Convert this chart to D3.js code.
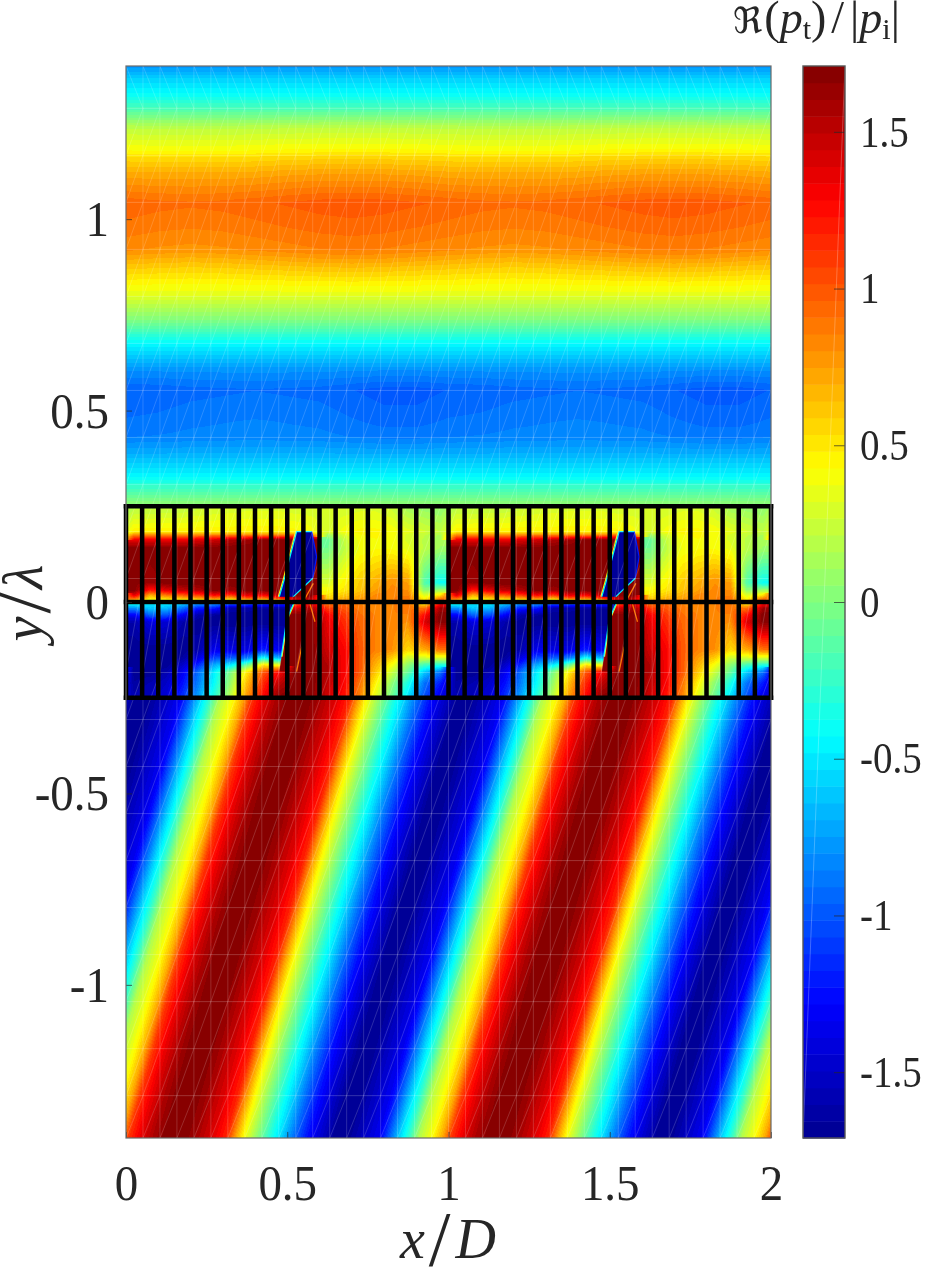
<!DOCTYPE html>
<html>
<head>
<meta charset="utf-8">
<script src="https://cdn.jsdelivr.net/npm/d3@7"></script>
<style>
  html, body { margin: 0; padding: 0; background: #fff; }
  #plot { position: relative; width: 936px; height: 1273px; overflow: hidden; }
  canvas, svg { position: absolute; left: 0; top: 0; }
  text { font-family: "Liberation Serif", serif; fill: #262626; }
</style>
</head>
<body>
<div id="plot"></div>
<script>
// Axis limits and tick labels
const xLimits = [0, 2];
const yLimits = [-1.4, 1.4];
const colorLimits = [-1.71, 1.71];
const xTicks = [0, 0.5, 1, 1.5, 2];
const yTicks = [-1, -0.5, 0, 0.5, 1];
const colorTicks = [-1.5, -1, -0.5, 0, 0.5, 1, 1.5];

// Standing field above the grating: y/λ and pressure
const upperY = [1.4, 1.371, 1.329, 1.287, 1.24, 1.18, 1.162, 1.12, 1.068, 1.042, 0.979, 0.919, 0.875,
  0.828, 0.807, 0.789, 0.736, 0.676, 0.606, 0.554, 0.483, 0.431, 0.389, 0.326, 0.305, 0.258];
const upperP = [-0.79, -0.6, -0.43, -0.17, 0.2, 0.43, 0.55, 0.72, 0.88, 0.96, 0.9, 0.82, 0.62,
  0.43, 0.36, 0.27, 0, -0.43, -0.79, -0.95, -0.9, -0.85, -0.7, -0.43, -0.27, 0.03];

// Slow ripple of the standing field over one period (rows in y/λ, columns every 0.1 x/D)
const rippleY = [1.3, 1.1, 1.05, 0.98, 0.9, 0.8, 0.62, 0.55, 0.47, 0.38];
const ripple = [
  [0, 0, 0, 0, 0, 0, 0, 0, 0, 0],
  [-0.01, -0.02, -0.02, -0.02, -0.01, 0.01, 0.02, 0.02, 0.02, 0.01],
  [-0.01, -0.03, -0.04, -0.03, -0.01, 0.01, 0.03, 0.04, 0.03, 0.01],
  [-0.01, -0.03, -0.04, -0.03, -0.01, 0.01, 0.03, 0.04, 0.03, 0.01],
  [-0.01, -0.03, -0.04, -0.03, -0.01, 0.01, 0.03, 0.04, 0.03, 0.01],
  [0, 0, 0, 0, 0, 0, 0, 0, 0, 0],
  [0, 0, 0, 0, 0, 0, 0, 0, 0, 0],
  [-0.01, 0, 0.02, 0.03, 0.04, 0.03, 0.02, -0.01, -0.04, -0.04],
  [-0.01, 0, 0.02, 0.03, 0.04, 0.03, 0.02, -0.01, -0.04, -0.04],
  [0, 0, 0, 0, 0, 0, 0, 0, 0, 0]
];

// Oblique incident wave below the grating: pressure along one period at the reference row
const waveShear = 0.3325;
const waveRefY = -0.778;
const waveU = [0.002, 0.053, 0.085, 0.115, 0.157, 0.188, 0.213, 0.25, 0.29, 0.353, 0.415, 0.477,
  0.518, 0.545, 0.57, 0.61, 0.653, 0.685, 0.725, 0.766, 0.81, 0.87, 0.933, 0.99];
const waveP = [-1.22, -0.58, -0.24, 0.17, 0.43, 0.72, 1.1, 1.35, 1.56, 1.78, 1.62, 1.38,
  1.16, 0.75, 0.43, 0.07, -0.31, -0.55, -0.9, -1.22, -1.47, -1.78, -1.55, -1.33];

// Field inside the slots: one row per y/λ level, one value per slot over a period
const slotY = [0.245, 0.183, 0.175, 0.162, 0.14, 0.05, 0.031, 0.018, 0.008,
  -0.005, -0.016, -0.034, -0.052, -0.125, -0.146, -0.164, -0.183, -0.211, -0.24];
const slotP = [
  [0.2, 0.2, 0.22, 0.22, 0.25, 0.27, 0.28, 0.3, 0.3, 0.3, 0.28, 0.28, 0.27, 0.28, 0.3, 0.3, 0.25, 0.12, 0.08, 0.05],
  [0.47, 0.47, 0.47, 0.47, 0.47, 0.47, 0.47, 0.47, 0.47, 0.47, 0.45, 0.4, 0.3, 0.4, 0.45, 0.45, 0.42, 0.35, 0.28, 0.22],
  [0.85, 0.85, 0.85, 0.85, 0.85, 0.85, 0.85, 0.85, 0.85, 0.85, 0.9, 0.9, 0.1, 0.3, 0.42, 0.45, 0.4, 0.3, 0.22, 0.15],
  [1.35, 1.35, 1.35, 1.35, 1.4, 1.45, 1.55, 1.6, 1.71, 1.71, 1.71, 1.71, -0.1, 0.22, 0.4, 0.42, 0.4, 0.3, 0.2, 0.12],
  [1.71, 1.71, 1.71, 1.71, 1.71, 1.71, 1.71, 1.71, 1.71, 1.71, 1.71, 1.71, -0.05, 0.2, 0.38, 0.42, 0.42, 0.35, 0.2, 0.1],
  [1.71, 1.6, 1.71, 1.71, 1.71, 1.71, 1.71, 1.71, 1.71, 1.71, 1.71, 1.71, 0.3, 0.45, 0.6, 0.7, 0.8, 0.75, -0.15, -0.4],
  [1.71, 1.2, 1.4, 1.5, 1.55, 1.71, 1.6, 1.71, 1.71, 1.71, 1.71, 1.71, 0.42, 0.5, 0.62, 0.75, 0.82, 0.8, 0.05, 0.1],
  [1.4, 0.7, 0.9, 1.0, 1.1, 1.3, 1.1, 1.4, 1.3, 1.5, 1.71, 1.71, 0.5, 0.6, 0.7, 0.82, 0.85, 0.85, 0.3, 0.5],
  [0.9, 0.45, 0.55, 0.6, 0.65, 0.8, 0.6, 0.9, 0.8, 1.0, 1.5, 1.5, 0.6, 0.7, 0.75, 0.85, 0.85, 0.9, 0.45, 0.9],
  [-0.4, -0.5, -0.5, -0.6, -0.8, -0.8, -1.0, -1.0, -1.1, -1.1, 1.0, 1.4, 0.9, 0.95, 0.85, 0.8, 0.85, 0.9, 0.5, 1.3],
  [-0.8, -0.6, -0.65, -0.9, -1.2, -1.2, -1.6, -1.6, -1.65, -1.65, 1.4, 1.6, 1.1, 1.0, 0.88, 0.82, 0.85, 0.9, 0.9, 1.6],
  [-1.3, -0.95, -1.0, -1.3, -1.6, -1.65, -1.71, -1.71, -1.71, -1.71, 1.71, 1.71, 1.3, 1.1, 0.92, 0.85, 0.85, 0.85, 1.25, 1.71],
  [-1.6, -1.4, -1.45, -1.6, -1.71, -1.71, -1.71, -1.71, -1.71, -1.71, 1.71, 1.71, 1.35, 1.15, 0.95, 0.85, 0.85, 0.8, 1.4, 1.7],
  [-1.71, -1.71, -1.71, -1.71, -1.6, -1.35, -1.4, -1.4, -1.2, -1.35, 1.71, 1.71, 1.45, 1.3, 1.0, 0.85, 0.8, 0.55, 0.7, 0.9],
  [-1.71, -1.71, -1.71, -1.65, -1.4, -1.05, -1.0, -0.9, -0.4, -0.7, 1.71, 1.71, 1.5, 1.3, 1.0, 0.75, 0.6, 0.25, 0.3, 0.3],
  [-1.71, -1.71, -1.7, -1.5, -1.15, -0.7, -0.5, -0.1, 0.5, 0.35, 1.71, 1.71, 1.55, 1.3, 1.0, 0.68, 0.4, 0.05, -0.2, -0.3],
  [-1.7, -1.7, -1.6, -1.35, -0.9, -0.45, 0, 0.5, 1.0, 1.3, 1.71, 1.71, 1.55, 1.3, 1.0, 0.6, 0.25, -0.1, -0.6, -0.9],
  [-1.65, -1.6, -1.5, -1.25, -0.85, -0.4, 0.1, 0.65, 1.15, 1.5, 1.71, 1.71, 1.5, 1.3, 0.9, 0.45, 0.05, -0.35, -0.9, -1.2],
  [-1.6, -1.55, -1.45, -1.15, -0.75, -0.3, 0.2, 0.75, 1.25, 1.65, 1.71, 1.7, 1.45, 1.25, 0.85, 0.35, -0.05, -0.5, -1.0, -1.35]
];

// Sharp-edged regions around the resonant slots, as [x/D, y/λ] outlines with their pressure
const sharpRegions = [
  { p: -1.71, pts: [[0.529, 0.184], [0.576, 0.184], [0.591, 0.118], [0.579, 0.062], [0.519, 0.014], [0.4755, 0.014], [0.49, 0.057], [0.5085, 0.118]] },
  { p: 1.71, pts: [[0.4817, -0.1427], [0.498, -0.047], [0.5065, -0.047], [0.5065, -0.1818], [0.4755, -0.1818]] },
  { p: -1.71, pts: [[0.498, -0.0052], [0.519, -0.0052], [0.498, -0.047]] }
];
const sharpLines = [
  { p: 0.43, pts: [[0.4725, 0.014], [0.487, 0.057], [0.5055, 0.118], [0.526, 0.184]] },
  { p: -0.43, pts: [[0.4755, 0.014], [0.49, 0.057], [0.5085, 0.118], [0.529, 0.184], [0.576, 0.184]] },
  { p: -1.2, pts: [[0.576, 0.184], [0.591, 0.118], [0.579, 0.062]] },
  { p: -0.43, pts: [[0.579, 0.062], [0.519, 0.014]] },
  { p: 0.43, pts: [[0.4837, -0.1427], [0.5, -0.047], [0.521, -0.0052]] },
  { p: -0.43, pts: [[0.4817, -0.1427], [0.498, -0.047], [0.519, -0.0052]] },
  { p: 0.9, pts: [[0.529, -0.1818], [0.545, -0.1165]] },
  { p: 0.9, pts: [[0.5705, -0.0052], [0.586, -0.0516]] },
  { p: 0.9, pts: [[0.5809, 0.0487], [0.555, 0.0088]] }
];

// Grating outline: slot walls and plate edges, and the simulation mesh
const slotWalls = d3.range(0, 41).map(k => k * 0.05);
const plateLines = [-0.25, 0, 0.25];
const meshColumns = d3.range(1, 38).map(k => k / 19);
const meshRows = d3.range(-10, 11).flatMap(k => k < 0 ? [k * 0.1228 - 0.0614] : [k * 0.1228 + 0.0614]);

// Layout
const plot = { left: 126, right: 771, top: 66, bottom: 1138 };
const bar = { left: 803, right: 845, top: 66, bottom: 1138 };
const x = d3.scaleLinear().domain(xLimits).range([plot.left, plot.right]);
const y = d3.scaleLinear().domain(yLimits).range([plot.bottom, plot.top]);
const barScale = d3.scaleLinear().domain(colorLimits).range([bar.bottom, bar.top]);

// 64-step jet colormap
const jet = d3.scaleLinear()
  .domain([0, 0.125, 0.375, 0.625, 0.875, 1])
  .range(["#000090", "#0000ff", "#00ffff", "#ffff00", "#ff0000", "#800000"]);
const levels = d3.range(64).map(i => jet((i + 0.5) / 64));
const color = d3.scaleQuantize().domain(colorLimits).range(levels);

const mod1 = v => v - Math.floor(v);

const upperScale = d3.scaleLinear().domain(upperY).range(upperP).clamp(true);
const waveScale = d3.scaleLinear()
  .domain([waveU[waveU.length - 1] - 1, ...waveU, waveU[0] + 1])
  .range([waveP[waveP.length - 1], ...waveP, waveP[0]]);

function rippleAt(px, py) {
  if (py > rippleY[0] || py < rippleY[rippleY.length - 1]) return 0;
  let r = 0;
  while (r < rippleY.length - 2 && py < rippleY[r + 1]) r++;
  const ty = (rippleY[r] - py) / (rippleY[r] - rippleY[r + 1]);
  const cx = mod1(px) * 10, c0 = Math.floor(cx) % 10, c1 = (c0 + 1) % 10, tx = cx - Math.floor(cx);
  const a = ripple[r][c0] * (1 - tx) + ripple[r][c1] * tx;
  const b = ripple[r + 1][c0] * (1 - tx) + ripple[r + 1][c1] * tx;
  return a * (1 - ty) + b * ty;
}

function slotAt(px, py) {
  let r = 0;
  while (r < slotY.length - 2 && py < slotY[r + 1]) r++;
  const ty = Math.max(0, Math.min(1, (slotY[r] - py) / (slotY[r] - slotY[r + 1])));
  const cx = mod1(px) / 0.05 - 0.5;
  const c0 = Math.floor(cx), tx = cx - c0;
  const i0 = (c0 + 20) % 20, i1 = (c0 + 1) % 20;
  const a = slotP[r][i0] * (1 - ty) + slotP[r + 1][i0] * ty;
  const b = slotP[r][i1] * (1 - ty) + slotP[r + 1][i1] * ty;
  // the field jumps across walls where neighbouring slots differ strongly
  if (Math.abs(a - b) > 1.2) return tx < 0.5 ? a : b;
  return a * (1 - tx) + b * tx;
}

function field(px, py) {
  if (py > 0.25) return upperScale(py) + rippleAt(px, py);
  if (py < -0.25) return waveScale(mod1(px - waveShear * (py - waveRefY)));
  return slotAt(px, py);
}

const root = d3.select("#plot");

// Pressure field, one canvas pixel per sample
const canvas = root.append("canvas").attr("width", 936).attr("height", 1273);
const ctx = canvas.node().getContext("2d");
const w = plot.right - plot.left, h = plot.bottom - plot.top;
const img = ctx.createImageData(w, h);
for (let j = 0; j < h; j++) {
  for (let i = 0; i < w; i++) {
    const c = d3.rgb(color(field(x.invert(plot.left + i + 0.5), y.invert(plot.top + j + 0.5))));
    const o = (j * w + i) * 4;
    img.data[o] = c.r; img.data[o + 1] = c.g; img.data[o + 2] = c.b; img.data[o + 3] = 255;
  }
}
ctx.putImageData(img, plot.left, plot.top);

const svg = root.append("svg").attr("width", 936).attr("height", 1273);
const line = d3.line().x(d => x(d[0])).y(d => y(d[1]));

// Sharp regions repeat in both periods
const periods = [0, 1];
const shift = (pts, k) => pts.map(d => [d[0] + k, d[1]]);
periods.forEach(k => {
  svg.append("g").selectAll("path").data(sharpRegions).join("path")
    .attr("d", d => line(shift(d.pts, k)) + "Z")
    .attr("fill", d => color(d.p));
  svg.append("g").selectAll("path").data(sharpLines).join("path")
    .attr("d", d => line(shift(d.pts, k)))
    .attr("fill", "none").attr("stroke", d => color(d.p)).attr("stroke-width", 1.2);
});

// Simulation mesh showing through the shaded field
const rowEdges = [yLimits[0], ...meshRows.slice().sort(d3.ascending), yLimits[1]];
const mesh = svg.append("g").attr("fill", "none").attr("stroke", "#fff").attr("stroke-width", 1);
mesh.selectAll("line.v").data(meshColumns).join("line").attr("class", "v")
  .attr("stroke-opacity", 0.17)
  .attr("x1", d => x(d)).attr("x2", d => x(d)).attr("y1", plot.top).attr("y2", plot.bottom);
mesh.selectAll("line.h").data(meshRows).join("line").attr("class", "h")
  .attr("stroke-opacity", 0.2)
  .attr("x1", plot.left).attr("x2", plot.right).attr("y1", d => y(d)).attr("y2", d => y(d));
const columnEdges = [0, ...meshColumns, 2];
const diagonals = [];
rowEdges.slice(0, -1).forEach((r, j) => {
  const top = rowEdges[j + 1];
  columnEdges.slice(0, -1).forEach((c, k) => {
    const next = columnEdges[k + 1];
    // the top row of the mesh leans the other way
    diagonals.push(j === rowEdges.length - 2 ? [[c, top], [next, r]] : [[c, r], [next, top]]);
  });
});
mesh.selectAll("path").data(diagonals).join("path").attr("d", line).attr("stroke-opacity", 0.17);

// Grating drawn over the field
const grating = svg.append("g").attr("stroke", "#000").attr("stroke-width", 4.5).attr("stroke-linecap", "square");
grating.selectAll("line.wall").data(slotWalls).join("line").attr("class", "wall")
  .attr("x1", d => x(d)).attr("x2", d => x(d)).attr("y1", y(0.25)).attr("y2", y(-0.25));
grating.selectAll("line.plate").data(plateLines).join("line").attr("class", "plate")
  .attr("x1", x(0)).attr("x2", x(2)).attr("y1", d => y(d)).attr("y2", d => y(d));

// Axes; labels keep a plain hyphen for negative values
const tickText = d => `${d}`;
function styleAxis(g, size, stretch) {
  g.select(".domain").remove();
  g.selectAll("line").attr("stroke", "#262626").attr("stroke-opacity", 0.7);
  g.selectAll("text").attr("font-size", size).attr("font-family", '"Liberation Serif", serif')
    .attr("fill", "#262626").attr("transform", `scale(1,${stretch})`);
}
svg.append("g").attr("transform", `translate(0,${plot.bottom})`)
  .call(d3.axisBottom(x).tickValues(xTicks).tickFormat(tickText).tickSizeInner(-6).tickSizeOuter(0).tickPadding(23))
  .call(g => styleAxis(g, 47, 1.1));
svg.append("g").attr("transform", `translate(${plot.left},0)`)
  .call(d3.axisLeft(y).tickValues(yTicks).tickFormat(tickText).tickSizeInner(-6).tickSizeOuter(0).tickPadding(17))
  .call(g => styleAxis(g, 47, 1.1));

svg.append("rect").attr("x", plot.left).attr("y", plot.top).attr("width", w).attr("height", h)
  .attr("fill", "none").attr("stroke", "#6a6a6a").attr("stroke-width", 1.2);

// Colorbar
svg.append("g").selectAll("rect").data(levels).join("rect")
  .attr("x", bar.left).attr("width", bar.right - bar.left)
  .attr("y", (d, i) => barScale(colorLimits[0] + (i + 1) * (colorLimits[1] - colorLimits[0]) / 64))
  .attr("height", (bar.bottom - bar.top) / 64 + 0.5)
  .attr("fill", d => d);
svg.append("line").attr("x1", bar.right).attr("y1", bar.top).attr("x2", bar.left).attr("y2", bar.bottom)
  .attr("stroke", "#fff").attr("stroke-opacity", 0.25);
svg.append("g").attr("transform", `translate(${bar.right},0)`)
  .call(d3.axisRight(barScale).tickValues(colorTicks).tickFormat(tickText).tickSizeInner(-11).tickSizeOuter(0).tickPadding(15))
  .call(g => styleAxis(g, 39, 1.14));
svg.append("rect").attr("x", bar.left).attr("y", bar.top).attr("width", bar.right - bar.left).attr("height", bar.bottom - bar.top)
  .attr("fill", "none").attr("stroke", "#555").attr("stroke-width", 1.4);

// Axis titles with a tall slash between the letters
const xTitle = svg.append("text").attr("x", 448).attr("y", 1258).attr("text-anchor", "middle")
  .attr("font-size", 56).attr("font-style", "italic");
xTitle.append("tspan").text("x");
xTitle.append("tspan").attr("font-style", "normal").attr("font-size", 78).attr("dx", 4).attr("dy", 7).text("/");
xTitle.append("tspan").attr("dx", 5).attr("dy", -7).text("D");

const yTitle = svg.append("text").attr("transform", "translate(42,603) rotate(-90)").attr("text-anchor", "middle")
  .attr("font-size", 56).attr("font-style", "italic");
yTitle.append("tspan").text("y");
yTitle.append("tspan").attr("font-style", "normal").attr("font-size", 78).attr("dx", 3).attr("dy", 7).text("/");
yTitle.append("tspan").attr("dx", 3).attr("dy", -7).text("λ");

// Colorbar title
const cTitle = svg.append("text").attr("x", 733).attr("y", 33).attr("font-size", 46);
cTitle.append("tspan").attr("font-family", '"DejaVu Serif", "DejaVu Sans", serif').attr("font-size", 36).text("ℜ");
cTitle.append("tspan").attr("dx", 2).text("(");
cTitle.append("tspan").attr("font-style", "italic").text("p");
cTitle.append("tspan").attr("font-size", 30).attr("dy", 6).text("t");
cTitle.append("tspan").attr("dy", -6).text(")");
cTitle.append("tspan").attr("dx", 5).text("/");
cTitle.append("tspan").attr("dx", 6).text("|");
cTitle.append("tspan").attr("font-style", "italic").text("p");
cTitle.append("tspan").attr("font-size", 30).attr("dy", 6).text("i");
cTitle.append("tspan").attr("dy", -6).text("|");
</script>
</body>
</html>
